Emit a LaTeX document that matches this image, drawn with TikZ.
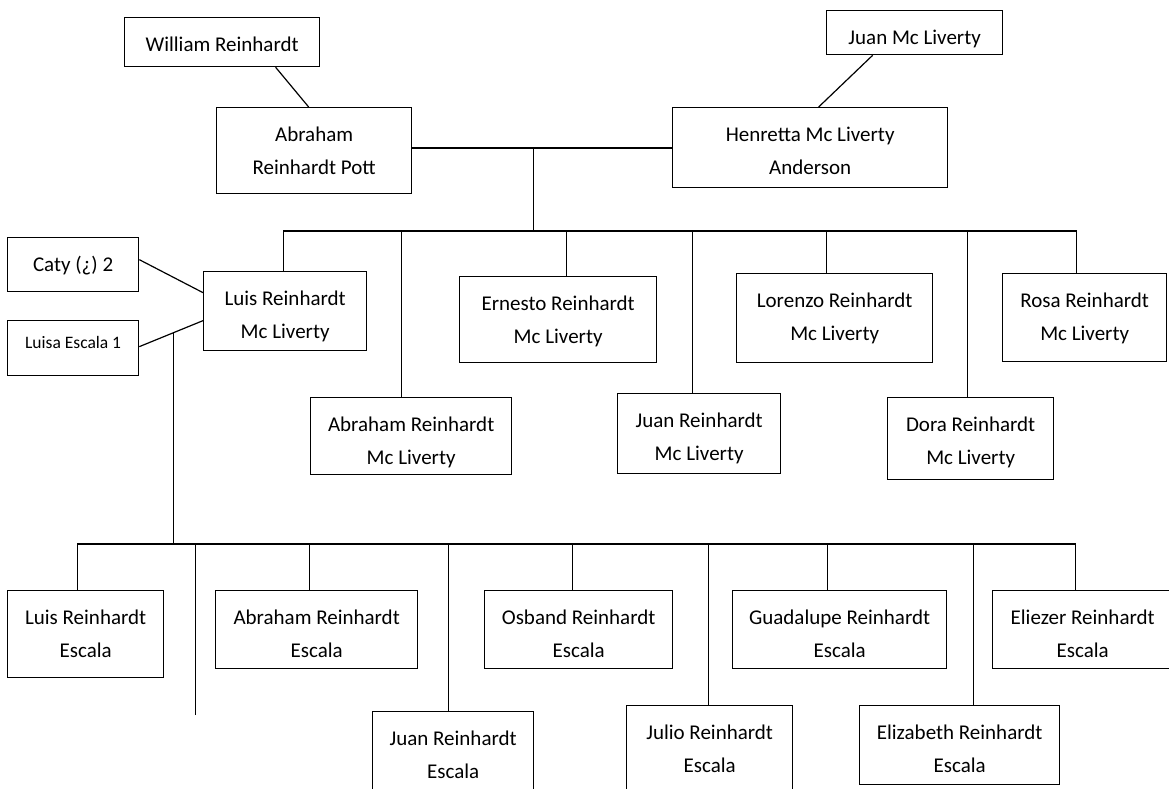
\documentclass[tikz,border=0pt]{standalone}
\usepackage{fontspec}
\setmainfont{Carlito}
\usetikzlibrary{calc}

\tikzset{
  person/.style={draw, line width=1.3pt, align=center, inner sep=0pt, anchor=north west,
    text height=34pt, font=\fontsize{21}{33}\selectfont},
  twoline/.style={text height=67pt},
  small/.style={text height=28pt, font=\fontsize{17.5}{27}\selectfont},
  link/.style={line width=1.2pt}
}

\begin{document}
\begin{tikzpicture}[x=1pt,y=-1pt]
	\useasboundingbox (0,0) rectangle (1169,789);

	% grandparents and parents
	\node[person, minimum width=195, text depth=15pt] (william) at (124,17) {William Reinhardt};
	\node[person, minimum width=176, text depth=10pt] (juanmc) at (826,10) {Juan Mc Liverty};
	\node[person, twoline, minimum width=195, text depth=19pt] (abrahamP) at (216,107) {Abraham\\Reinhardt Pott};
	\node[person, twoline, minimum width=275, text depth=13pt] (henretta) at (672,107) {Henretta Mc Liverty\\Anderson};

	% children
	\node[person, twoline, minimum width=163, text depth=12pt] (luisM) at (203,271) {Luis Reinhardt\\Mc Liverty};
	\node[person, twoline, minimum width=197, text depth=19pt] (ernesto) at (459,276) {Ernesto Reinhardt\\Mc Liverty};
	\node[person, twoline, minimum width=196, text depth=22pt] (lorenzo) at (736,273) {Lorenzo Reinhardt\\Mc Liverty};
	\node[person, twoline, minimum width=164, text depth=21pt] (rosa) at (1002,273) {Rosa Reinhardt\\Mc Liverty};
	\node[person, twoline, minimum width=201, text depth=10pt] (abrahamM) at (310,397) {Abraham Reinhardt\\Mc Liverty};
	\node[person, twoline, minimum width=163, text depth=13pt] (juanM) at (617,393) {Juan Reinhardt\\Mc Liverty};
	\node[person, twoline, minimum width=166, text depth=15pt] (dora) at (887,397) {Dora Reinhardt\\Mc Liverty};

	% wives of Luis
	\node[person, minimum width=131, text depth=20pt] (caty) at (7,237) {Caty (¿) 2};
	\node[person, small, minimum width=131, text depth=27pt] (luisa) at (7,320) {Luisa Escala 1};

	% grandchildren
	\node[person, twoline, minimum width=156, text depth=20pt] (luisE) at (7,590) {Luis Reinhardt\\Escala};
	\node[person, twoline, minimum width=202, text depth=11pt] (abrahamE) at (215,590) {Abraham Reinhardt\\Escala};
	\node[person, twoline, minimum width=188, text depth=11pt] (osband) at (484,590) {Osband Reinhardt\\Escala};
	\node[person, twoline, minimum width=214, text depth=11pt] (guadalupe) at (732,590) {Guadalupe Reinhardt\\Escala};
	\node[person, twoline, minimum width=180, text depth=11pt] (eliezer) at (992,590) {Eliezer Reinhardt\\Escala};
	\node[person, twoline, minimum width=161, text depth=23pt] (juanE) at (372,711) {Juan Reinhardt\\Escala};
	\node[person, twoline, minimum width=166, text depth=23pt] (julio) at (626,705) {Julio Reinhardt\\Escala};
	\node[person, twoline, minimum width=200, text depth=12pt] (elizabeth) at (859,705) {Elizabeth Reinhardt\\Escala};

	\coordinate (wed) at (533.5,148);
	\coordinate (kids) at (533.5,231);
	\coordinate (wed2) at (173.5,332);
	\coordinate (kids2) at (173.5,544);
	\coordinate (stub) at (195.5,715);

	\path [link]
	($(william.south)+(53.5,0)$) edge ($(abrahamP.north)+(-5.5,0)$)
	($(juanmc.south)+(-42,0)$) edge ($(henretta.north)+(8.5,0)$)
	(abrahamP.east |- wed) edge (henretta.west |- wed)
	(wed) edge (kids)
	($(caty.east)+(0,-5)$) edge ($(luisM.west)+(0,-18.5)$)
	($(luisa.east)+(0,-1.5)$) edge ($(luisM.west)+(0,9.5)$)
	(wed2) edge (kids2);

	\draw [link] ($(luisM.north)+(-1.5,0)$) |- (kids);
	\draw [link] ($(abrahamM.north)+(-9.5,0)$) |- (kids);
	\draw [link] ($(ernesto.north)+(8.5,0)$) |- (kids);
	\draw [link] ($(juanM.north)+(-7,0)$) |- (kids);
	\draw [link] ($(lorenzo.north)+(-8,0)$) |- (kids);
	\draw [link] ($(dora.north)+(-3,0)$) |- (kids);
	\draw [link] ($(rosa.north)+(-8,0)$) |- (kids);

	\draw [link] ($(luisE.north)+(-8,0)$) |- (kids2);
	\draw [link] (stub) |- (kids2);
	\draw [link] ($(abrahamE.north)+(-7,0)$) |- (kids2);
	\draw [link] ($(juanE.north)+(-4.5,0)$) |- (kids2);
	\draw [link] ($(osband.north)+(-6,0)$) |- (kids2);
	\draw [link] ($(julio.north)+(-1,0)$) |- (kids2);
	\draw [link] ($(guadalupe.north)+(-12,0)$) |- (kids2);
	\draw [link] ($(elizabeth.north)+(14,0)$) |- (kids2);
	\draw [link] ($(eliezer.north)+(-7,0)$) |- (kids2);
\end{tikzpicture}
\end{document}
